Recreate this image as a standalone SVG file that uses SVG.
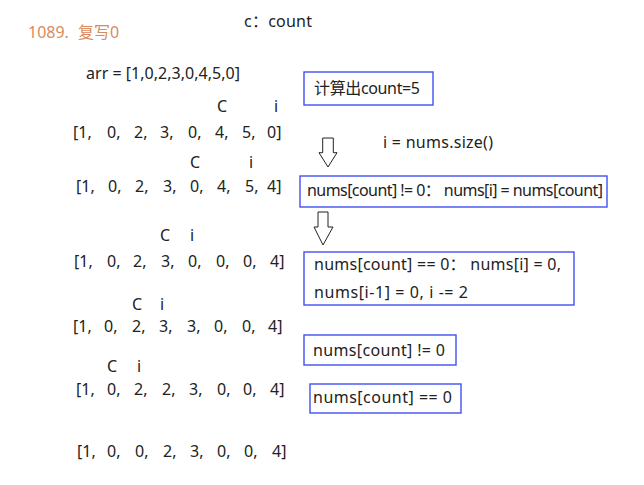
<svg xmlns="http://www.w3.org/2000/svg" width="644" height="485" viewBox="0 0 644 485">
<style>
text{font-family:"Noto Sans","Noto Sans CJK SC",sans-serif;font-size:16px;fill:#222}
.title{fill:#DA8A5E;font-size:16px}
.box{fill:none;stroke:#4050F2;stroke-width:1.4}
.arrow{fill:#fff;stroke:#222;stroke-width:1}
</style>
<rect width="644" height="485" fill="#fff"/>
<g id="labels">
<text class="title" x="28" y="37.5">1089.<tspan x="78">复写0</tspan></text>
<text x="244" y="27" textLength="68">c：count</text>
<text x="86" y="79" textLength="154">arr = [1,0,2,3,0,4,5,0]</text>
<text x="383" y="148" textLength="110">i = nums.size()</text>
</g>
<g id="arrays">
<text x="217" y="112">C<tspan x="274">i</tspan></text>
<text y="138"><tspan x="73">[1,</tspan><tspan x="107">0,</tspan><tspan x="134">2,</tspan><tspan x="160">3,</tspan><tspan x="188">0,</tspan><tspan x="215">4,</tspan><tspan x="242">5,</tspan><tspan x="267">0]</tspan></text>
<text x="190" y="168">C<tspan x="249">i</tspan></text>
<text y="192"><tspan x="76">[1,</tspan><tspan x="108">0,</tspan><tspan x="135">2,</tspan><tspan x="163">3,</tspan><tspan x="190">0,</tspan><tspan x="217">4,</tspan><tspan x="245">5,</tspan><tspan x="267">4]</tspan></text>
<text x="160" y="241">C<tspan x="190">i</tspan></text>
<text y="267"><tspan x="74">[1,</tspan><tspan x="107">0,</tspan><tspan x="133">2,</tspan><tspan x="161">3,</tspan><tspan x="188">0,</tspan><tspan x="216">0,</tspan><tspan x="243">0,</tspan><tspan x="270">4]</tspan></text>
<text x="132" y="310">C<tspan x="160">i</tspan></text>
<text y="332"><tspan x="73">[1,</tspan><tspan x="104">0,</tspan><tspan x="132">2,</tspan><tspan x="159">3,</tspan><tspan x="187">3,</tspan><tspan x="214">0,</tspan><tspan x="242">0,</tspan><tspan x="268">4]</tspan></text>
<text x="107" y="372">C<tspan x="137">i</tspan></text>
<text y="395"><tspan x="76">[1,</tspan><tspan x="107">0,</tspan><tspan x="134">2,</tspan><tspan x="162">2,</tspan><tspan x="189">3,</tspan><tspan x="217">0,</tspan><tspan x="243">0,</tspan><tspan x="270">4]</tspan></text>
<text y="457"><tspan x="77">[1,</tspan><tspan x="107">0,</tspan><tspan x="135">0,</tspan><tspan x="163">2,</tspan><tspan x="190">3,</tspan><tspan x="217">0,</tspan><tspan x="244">0,</tspan><tspan x="272">4]</tspan></text>
</g>
<g id="node-count">
<rect class="box" x="304" y="72" width="129" height="33"/>
<text x="314" y="94" font-size="15" textLength="106">计算出count=5</text>
</g>
<g id="node-neq">
<rect class="box" x="300" y="176" width="307" height="31"/>
<text x="307" y="196" font-size="15.5" textLength="296">nums[count] != 0：  nums[i] = nums[count]</text>
</g>
<g id="node-eq">
<rect class="box" x="304" y="252" width="270" height="53"/>
<text x="314" y="270" textLength="247">nums[count] == 0：  nums[i] = 0,</text>
<text x="314" y="298" textLength="154">nums[i-1] = 0, i -= 2</text>
</g>
<g id="node-neq2">
<rect class="box" x="304" y="335" width="152" height="30"/>
<text x="313" y="356" textLength="132">nums[count] != 0</text>
</g>
<g id="node-eq2">
<rect class="box" x="310" y="384" width="151" height="29"/>
<text x="313" y="403" textLength="139">nums[count] == 0</text>
</g>
<g id="connectors">
<path class="arrow" d="M322.7,138 H333.3 V152.7 H337 L328,167 L319,152.7 H322.7 Z"/>
<path class="arrow" d="M318,212 H328 V227 H333 L323,245 L314,227 H318 Z"/>
</g>
</svg>
